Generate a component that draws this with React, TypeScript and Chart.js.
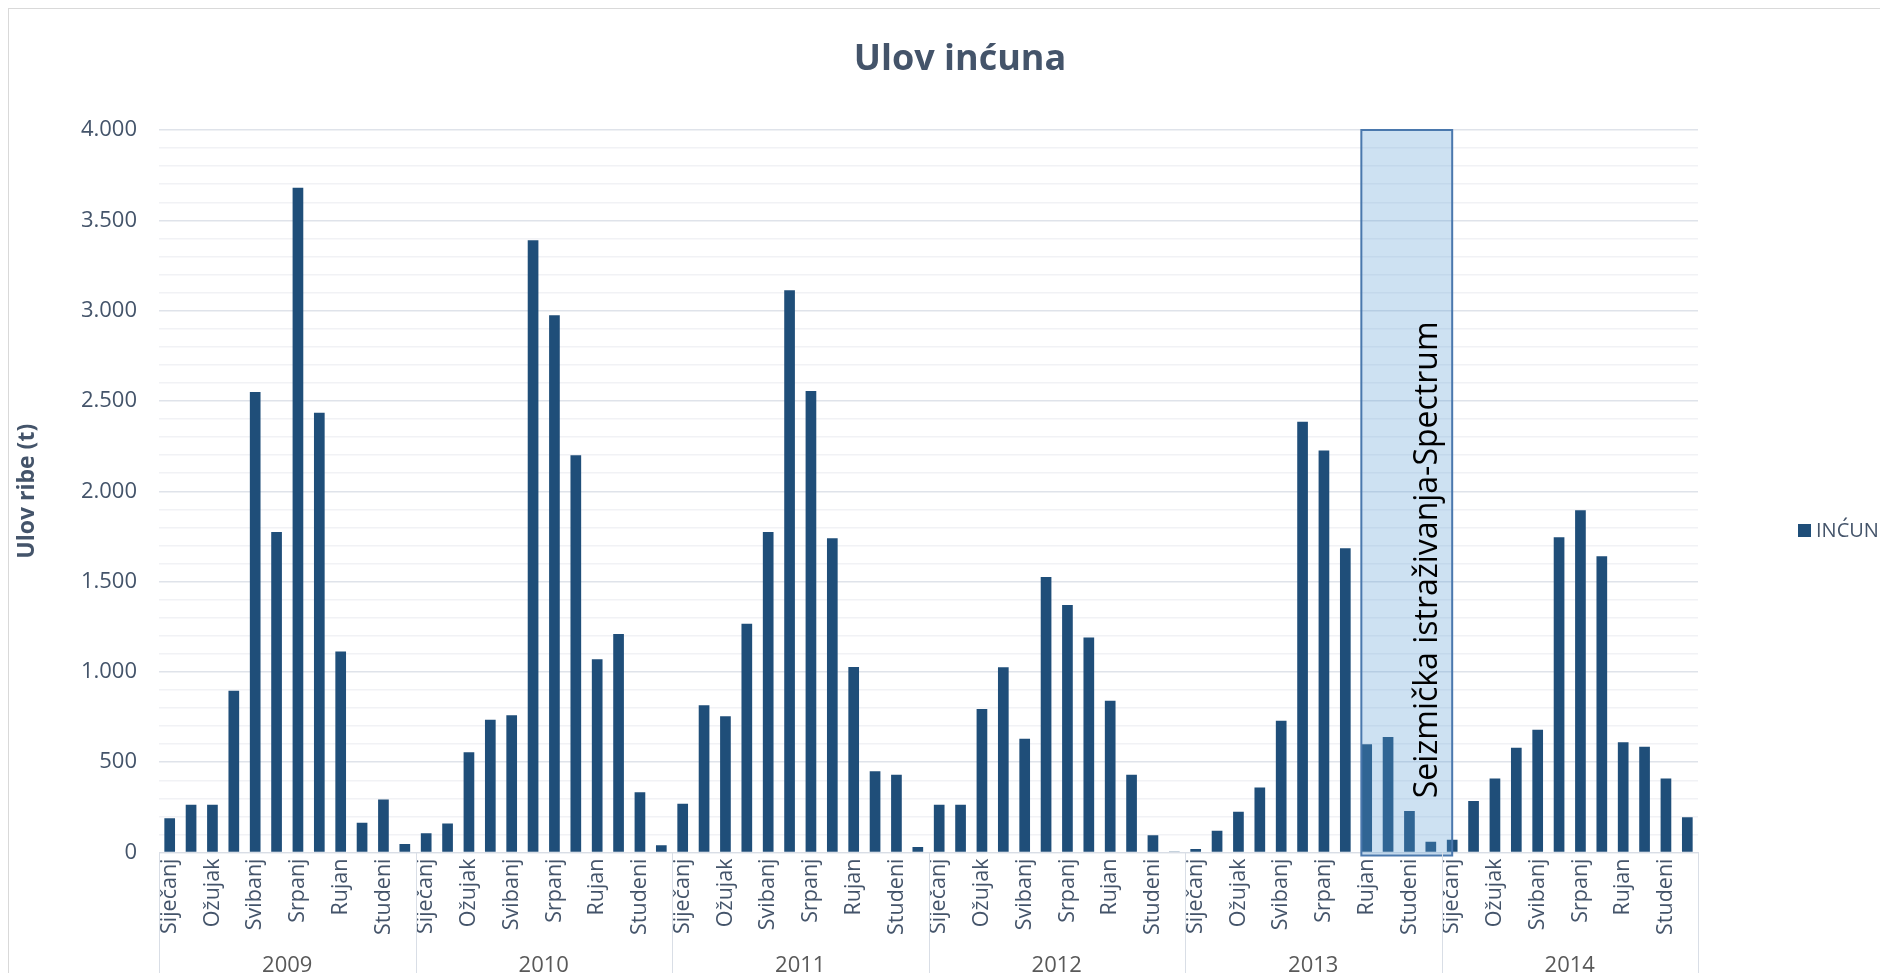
import React, { useEffect, useRef } from 'react';
import { Chart, registerables } from 'chart.js';

Chart.register(...registerables);

const TITLE = 'Ulov inćuna';
const Y_TITLE = 'Ulov ribe (t)';
const SERIES_NAME = 'INĆUN';
const YEARS = ['2009', '2010', '2011', '2012', '2013', '2014'];
const MONTHS = ['Siječanj', 'Veljača', 'Ožujak', 'Travanj', 'Svibanj', 'Lipanj', 'Srpanj', 'Kolovoz', 'Rujan', 'Listopad', 'Studeni', 'Prosinac'];
const SHOWN_MONTHS = ['Siječanj', 'Ožujak', 'Svibanj', 'Srpanj', 'Rujan', 'Studeni'];

const CATCH_2009 = [190, 265, 265, 895, 2550, 1775, 3680, 2435, 1113, 165, 293, 47];
const CATCH_2010 = [107, 160, 555, 735, 760, 3390, 2975, 2200, 1070, 1210, 333, 40];
const CATCH_2011 = [270, 815, 755, 1267, 1775, 3113, 2555, 1740, 1027, 450, 430, 30];
const CATCH_2012 = [265, 265, 795, 1025, 630, 1525, 1370, 1190, 840, 430, 95, 5];
const CATCH_2013 = [20, 120, 225, 360, 730, 2385, 2225, 1685, 600, 640, 230, 60];
const CATCH_2014 = [70, 285, 410, 580, 680, 1745, 1895, 1640, 610, 585, 410, 195];

const Y_MIN = 0;
const Y_MAX = 4000;
const Y_MAJOR_STEP = 500;
const Y_MINOR_STEP = 100;

const ANNOTATION_TEXT = 'Seizmička istraživanja-Spectrum';
const ANNOTATION_START_INDEX = 56; // Rujan 2013
const ANNOTATION_END_INDEX = 60; // Siječanj 2014
const ANNOTATION_TOP_VALUE = 4000;
const ANNOTATION_TEXT_VALUE = 1620;

const FONT = "'Open Sans', 'Noto Sans', sans-serif";
const TEXT_COLOR = '#44546a';
const BAR_COLOR = '#1f4e79';

const fmt = (v: number) => String(v).replace(/\B(?=(\d{3})+(?!\d))/g, '.');

const ALL_VALUES = [...CATCH_2009, ...CATCH_2010, ...CATCH_2011, ...CATCH_2012, ...CATCH_2013, ...CATCH_2014];
const LABELS: string[] = [];
YEARS.forEach(() => MONTHS.forEach((m) => LABELS.push(m)));

const extrasPlugin = {
  id: 'extras',
  afterDatasetsDraw(chart: any) {
    const { ctx, scales } = chart;
    const x = scales.x;
    const y = scales.y;
    const cat = x.getPixelForValue(1) - x.getPixelForValue(0);
    const left = x.getPixelForValue(ANNOTATION_START_INDEX) - cat * 0.25;
    const right = x.getPixelForValue(ANNOTATION_END_INDEX);
    const top = y.getPixelForValue(ANNOTATION_TOP_VALUE);
    const bottom = y.getPixelForValue(0) + 3;
    ctx.save();
    ctx.fillStyle = 'rgba(91,155,213,0.3)';
    ctx.fillRect(left, top, right - left, bottom - top);
    ctx.strokeStyle = '#4a78ad';
    ctx.lineWidth = 2;
    ctx.strokeRect(left, top, right - left, bottom - top);
    ctx.translate(left + (right - left) * 0.73, y.getPixelForValue(ANNOTATION_TEXT_VALUE));
    ctx.rotate(-Math.PI / 2);
    ctx.fillStyle = '#000000';
    ctx.font = `32px ${FONT}`;
    ctx.textAlign = 'center';
    ctx.textBaseline = 'middle';
    ctx.fillText(ANNOTATION_TEXT, 0, 0);
    ctx.restore();
  },
  afterDraw(chart: any) {
    const { ctx, scales, chartArea, height } = chart;
    const x = scales.x;
    const cat = x.getPixelForValue(1) - x.getPixelForValue(0);
    ctx.save();
    // title
    ctx.fillStyle = TEXT_COLOR;
    ctx.font = `bold 36px ${FONT}`;
    ctx.textAlign = 'center';
    ctx.textBaseline = 'middle';
    ctx.fillText(TITLE, 951, 51);
    // year group separators
    ctx.strokeStyle = '#d9dee6';
    ctx.lineWidth = 1;
    for (let i = 0; i <= YEARS.length; i++) {
      const px = Math.round(x.getPixelForValue(i * 12) - cat / 2) + 0.5;
      ctx.beginPath();
      ctx.moveTo(px, chartArea.bottom);
      ctx.lineTo(px, height);
      ctx.stroke();
    }
    ctx.fillStyle = '#595959';
    ctx.font = `22px ${FONT}`;
    ctx.textAlign = 'center';
    ctx.textBaseline = 'top';
    YEARS.forEach((yr, i) => {
      const cx = (x.getPixelForValue(i * 12) + x.getPixelForValue(i * 12 + 11)) / 2;
      ctx.fillText(yr, cx, 946);
    });
    // legend
    const lx = 1789;
    const ly = 521;
    ctx.fillStyle = BAR_COLOR;
    ctx.fillRect(lx, ly - 6, 13, 13);
    ctx.fillStyle = TEXT_COLOR;
    ctx.font = `20px ${FONT}`;
    ctx.textAlign = 'left';
    ctx.textBaseline = 'middle';
    ctx.fillText(SERIES_NAME, lx + 18, ly + 1);
    ctx.restore();
  },
};

export default function App() {
  const ref = useRef<HTMLCanvasElement | null>(null);
  useEffect(() => {
    if (!ref.current) return;
    const chart = new Chart(ref.current, {
      type: 'bar',
      data: {
        labels: LABELS,
        datasets: [
          {
            label: SERIES_NAME,
            data: ALL_VALUES,
            backgroundColor: BAR_COLOR,
            borderWidth: 0,
            barPercentage: 1,
            categoryPercentage: 0.5,
          },
        ],
      },
      options: {
        animation: false,
        responsive: false,
        layout: { padding: { left: 0, right: 209, top: 121, bottom: 0 } },
        plugins: {
          legend: { display: false },
          tooltip: { enabled: false },
          title: { display: false },
        },
        scales: {
          x: {
            grid: { display: false, drawTicks: false },
            border: { display: true, color: '#d9dee6' },
            ticks: {
              autoSkip: false,
              minRotation: 90,
              maxRotation: 90,
              padding: 6,
              color: TEXT_COLOR,
              font: { family: FONT, size: 21.5 },
              callback: (_v: any, i: number) => (SHOWN_MONTHS.includes(LABELS[i]) ? LABELS[i] : ''),
            },
            afterFit: (s: any) => {
              s.height = 156.5;
            },
          },
          y: {
            min: Y_MIN,
            max: Y_MAX,
            border: { display: false },
            grid: {
              drawTicks: false,
              color: (c: any) => (c.tick && c.tick.value % Y_MAJOR_STEP === 0 ? '#dfe3ea' : '#f1f2f5'),
              lineWidth: 1.5,
            },
            ticks: {
              stepSize: Y_MINOR_STEP,
              autoSkip: false,
              maxTicksLimit: 100,
              padding: 22,
              color: TEXT_COLOR,
              font: { family: FONT, size: 22 },
              callback: (v: any) => (Number(v) % Y_MAJOR_STEP === 0 ? fmt(Number(v)) : ''),
            },
            title: {
              display: true,
              text: Y_TITLE,
              color: TEXT_COLOR,
              font: { family: FONT, size: 23, weight: 'bold' },
              padding: { top: 5, bottom: 0 },
            },
            afterFit: (s: any) => {
              s.width = 150;
            },
          },
        },
      },
      plugins: [extrasPlugin],
    });
    return () => chart.destroy();
  }, []);

  return (
    <div style={{ width: 1880, height: 965, overflow: 'hidden' }}>
      <div style={{ width: 1900, height: 1010, border: '1px solid #d9d9d9', boxSizing: 'border-box', background: '#fff' }}>
        <canvas ref={ref} width={1898} height={1000} style={{ display: 'block' }} />
      </div>
    </div>
  );
}
